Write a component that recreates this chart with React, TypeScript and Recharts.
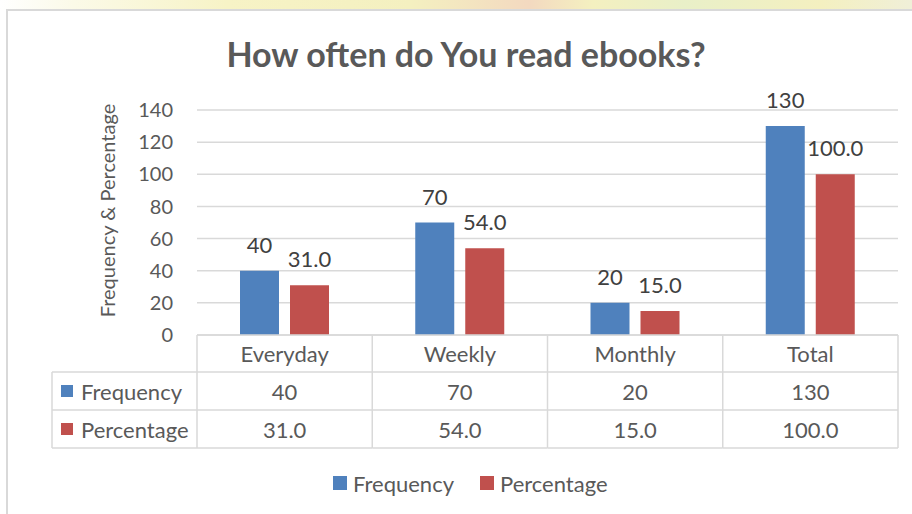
import React from 'react';
import { BarChart, Bar, XAxis, YAxis, CartesianGrid, LabelList, Legend } from 'recharts';

const categories = ['Everyday', 'Weekly', 'Monthly', 'Total'];
const frequency = [40, 70, 20, 130];
const percentage = [31.0, 54.0, 15.0, 100.0];
const yTicks = [0, 20, 40, 60, 80, 100, 120, 140];
const seriesNames = ['Frequency', 'Percentage'];
const seriesColors = ['#4F81BD', '#C0504D'];
const title = 'How often do You read ebooks?';
const yLabel = 'Frequency & Percentage';

const data = categories.map((c, i) => ({ name: c, freq: frequency[i], pct: percentage[i] }));

const FONT = 'Lato, sans-serif';
const TEXT = '#595959';
const LINE = '#d9d9d9';
const TABLE_FS = 22;

function TableTick(props: any) {
  const { x, y, payload, index, width, visibleTicksCount } = props;
  const half = payload && payload.offset ? payload.offset : width / visibleTicksCount / 2;
  const left = x - half;
  const right = x + half;
  const i = index;
  const rows = [y + 37, y + 75, y + 113];
  const headLeft = left - 145;
  return (
    <g fontFamily={FONT} fontSize={TABLE_FS} fill={TEXT}>
      {i === 0 && (
        <g>
          <line x1={left} y1={y} x2={left} y2={rows[2]} stroke={LINE} strokeWidth={1.5} />
          <line x1={headLeft} y1={rows[0]} x2={headLeft} y2={rows[2]} stroke={LINE} strokeWidth={1.5} />
          {rows.map((ry, k) => (
            <line key={k} x1={headLeft} y1={ry} x2={left} y2={ry} stroke={LINE} strokeWidth={1.5} />
          ))}
          {seriesNames.map((n, k) => (
            <g key={n}>
              <rect x={headLeft + 9} y={(k === 0 ? y + 56 : y + 94) - 6} width={12} height={12} fill={seriesColors[k]} />
              <text x={headLeft + 29} y={k === 0 ? y + 56 : y + 94} dominantBaseline="central" fill={TEXT}>
                {n}
              </text>
            </g>
          ))}
        </g>
      )}
      <line x1={right} y1={y} x2={right} y2={rows[2]} stroke={LINE} strokeWidth={1.5} />
      {rows.map((ry, k) => (
        <line key={k} x1={left} y1={ry} x2={right} y2={ry} stroke={LINE} strokeWidth={1.5} />
      ))}
      <text x={x} y={y + 18.5} textAnchor="middle" dominantBaseline="central" fill={TEXT}>
        {payload.value}
      </text>
      <text x={x} y={y + 56} textAnchor="middle" dominantBaseline="central" fill={TEXT}>
        {frequency[i]}
      </text>
      <text x={x} y={y + 94} textAnchor="middle" dominantBaseline="central" fill={TEXT}>
        {percentage[i].toFixed(1)}
      </text>
    </g>
  );
}

function LegendContent() {
  return (
    <div style={{ display: 'flex', alignItems: 'center', height: 30, fontFamily: FONT, fontSize: TABLE_FS, color: TEXT }}>
      {seriesNames.map((n, k) => (
        <div key={n} style={{ display: 'flex', alignItems: 'center', marginRight: k === 0 ? 26 : 0 }}>
          <div style={{ width: 14, height: 14, background: seriesColors[k], marginRight: 6 }} />
          <span>{n}</span>
        </div>
      ))}
    </div>
  );
}

export default function App() {
  return (
    <div style={{ position: 'absolute', left: 0, top: 0, width: 912, height: 514, background: '#fff', overflow: 'hidden' }}>
      <div
        style={{
          position: 'absolute',
          left: 0,
          top: 0,
          width: 912,
          height: 10,
          background: 'linear-gradient(90deg, #ffffff 0%, #fbfae8 8%, #f7f3c6 25%, #f4f0c0 45%, #f3d9c0 58%, #f4f0c0 65%, #e9f0c8 75%, #f4f0c0 90%, #f0efd8 100%)',
        }}
      />
      <div
        style={{
          position: 'absolute',
          left: 6,
          top: 9,
          width: 920,
          height: 520,
          borderLeft: `2px solid ${LINE}`,
          borderTop: `2px solid ${LINE}`,
          boxSizing: 'border-box',
        }}
      />
      <div
        style={{
          position: 'absolute',
          left: 0,
          top: 33,
          width: 932,
          textAlign: 'center',
          fontFamily: FONT,
          fontWeight: 700,
          fontSize: 34,
          color: TEXT,
          lineHeight: '41px',
          whiteSpace: 'nowrap',
        }}
      >
        {title}
      </div>
      <div style={{ position: 'absolute', left: 0, top: 0 }}>
        <BarChart
          width={912}
          height={514}
          data={data}
          margin={{ top: 110, right: 14, bottom: 36, left: 137 }}
          barSize={39}
          barGap={11}
        >
          <CartesianGrid horizontal vertical={false} stroke={LINE} strokeWidth={1.5} />
          <XAxis
            dataKey="name"
            height={113}
            axisLine={{ stroke: LINE, strokeWidth: 1.5 }}
            tickLine={false}
            tickSize={0}
            tickMargin={0}
            interval={0}
            tick={<TableTick />}
          />
          <YAxis
            width={60}
            domain={[0, 140]}
            ticks={yTicks}
            axisLine={false}
            tickLine={false}
            tickSize={0}
            tickMargin={24}
            tick={{ fill: TEXT, fontSize: 20, fontFamily: FONT }}
            label={{
              value: yLabel,
              angle: -90,
              position: 'center',
              dx: -59,
              dy: -12,
              fill: TEXT,
              fontSize: 20,
              fontFamily: FONT,
            }}
          />
          <Legend
            verticalAlign="bottom"
            height={30}
            content={<LegendContent />}
            wrapperStyle={{ top: 468, bottom: 'auto', left: 333, width: 400, height: 30 }}
          />
          <Bar dataKey="freq" name={seriesNames[0]} fill={seriesColors[0]} isAnimationActive={false}>
            <LabelList dataKey="freq" position="top" offset={18} fill="#404040" fontSize={22} fontFamily={FONT} />
          </Bar>
          <Bar dataKey="pct" name={seriesNames[1]} fill={seriesColors[1]} isAnimationActive={false}>
            <LabelList
              dataKey="pct"
              position="top"
              offset={18}
              fill="#404040"
              fontSize={22}
              fontFamily={FONT}
              formatter={(v: any) => Number(v).toFixed(1)}
            />
          </Bar>
        </BarChart>
      </div>
    </div>
  );
}
